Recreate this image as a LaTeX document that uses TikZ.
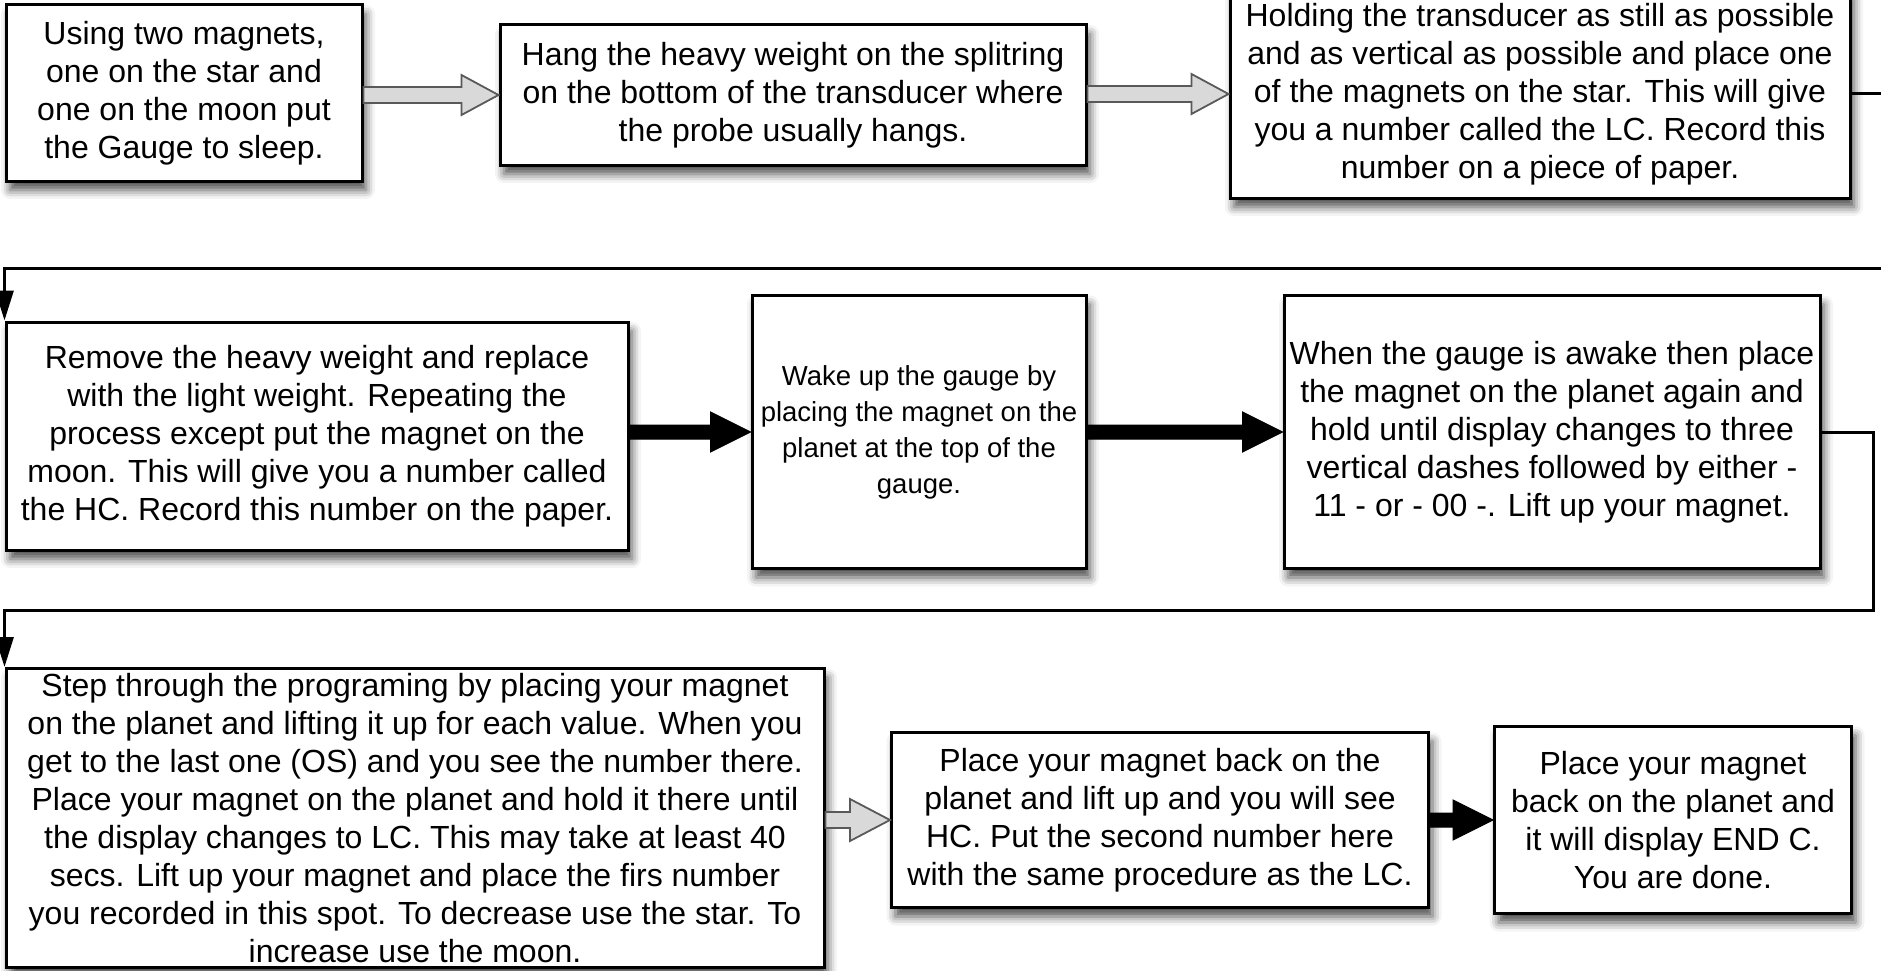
\documentclass[tikz,border=0pt]{standalone}
\usepackage{fontspec}
\setmainfont{Liberation Sans}
\usetikzlibrary{calc,arrows.meta,shadows.blur}

\begin{document}
\begin{tikzpicture}[x=1pt, y=-1pt, every node/.style={font=\fontsize{32}{38}\selectfont},
    stepbox/.style={draw, line width=3pt, fill=white, align=center, inner sep=0pt,
        blur shadow={shadow xshift=4pt, shadow yshift=-9pt, shadow blur radius=9pt, shadow opacity=70}},
    flowline/.style={line width=3pt, -{Triangle[length=30pt, width=18pt]}},
    hollowarrow/.style={draw=black!65, line width=1.8pt, fill=black!15, line join=miter},
    solidarrow/.style={draw=black, line width=1pt, fill=black, line join=miter}]

\useasboundingbox (0,0) rectangle (1881,971);

% Row 1
\node[stepbox, minimum width=356, minimum height=176] (sleep) at (184, 93) {
    Using two magnets,\\
    one on the star and\\
    one on the moon put\\
    the Gauge to sleep.
};

\node[stepbox, minimum width=586, minimum height=140] (heavy) at (793, 95) {
    Hang the heavy weight on the splitring\\
    on the bottom of the transducer where\\
    the probe usually hangs.
};

\node[stepbox, minimum width=620, minimum height=208] (lc) at (1540, 94) {
    Holding the transducer as still as possible\\
    and as vertical as possible and place one\\
    of the magnets on the star. This will give\\
    you a number called the LC. Record this\\
    number on a piece of paper.
};

% Row 2
\node[stepbox, minimum width=622, minimum height=228] (hc) at (317, 436) {
    Remove the heavy weight and replace\\
    with the light weight. Repeating the\\
    process except put the magnet on the\\
    moon. This will give you a number called\\
    the HC. Record this number on the paper.
};

\node[stepbox, minimum width=334, minimum height=273, font=\fontsize{27.5}{36}\selectfont] (wake) at (919, 432) {
    Wake up the gauge by\\
    placing the magnet on the\\
    planet at the top of the\\
    gauge.
};

\node[stepbox, minimum width=536, minimum height=273] (dashes) at (1552, 432) {
    When the gauge is awake then place\\
    the magnet on the planet again and\\
    hold until display changes to three\\
    vertical dashes followed by either -\\
    11 - or - 00 -. Lift up your magnet.
};

% Row 3
\node[stepbox, minimum width=818, minimum height=299] (program) at (415, 818) {
    Step through the programing by placing your magnet\\
    on the planet and lifting it up for each value. When you\\
    get to the last one (OS) and you see the number there.\\
    Place your magnet on the planet and hold it there until\\
    the display changes to LC. This may take at least 40\\
    secs. Lift up your magnet and place the firs number\\
    you recorded in this spot. To decrease use the star. To\\
    increase use the moon.
};

\node[stepbox, minimum width=537, minimum height=175] (second) at (1160, 820) {
    Place your magnet back on the\\
    planet and lift up and you will see\\
    HC. Put the second number here\\
    with the same procedure as the LC.
};

\node[stepbox, minimum width=357, minimum height=187] (done) at (1673, 820) {
    Place your magnet\\
    back on the planet and\\
    it will display END C.\\
    You are done.
};

% Turning points of the long connectors
\coordinate (turnA) at (1900, 268);
\coordinate (turnB) at (1873, 610);

% Connectors between rows
\draw[flowline] (lc.east) -- (lc.east -| turnA) -- (turnA) -- (turnA -| hc.north west) -- (hc.north west);
\draw[flowline] (dashes.east) -- (dashes.east -| turnB) -- (turnB) -- (turnB -| program.north west) -- (program.north west);

% Hollow block arrows
\draw[hollowarrow] ($(sleep.east |- heavy.west)+(0,-8)$) -- ($(heavy.west)+(-37,-8)$) -- ($(heavy.west)+(-37,-20)$) -- (heavy.west)
    -- ($(heavy.west)+(-37,20)$) -- ($(heavy.west)+(-37,8)$) -- ($(sleep.east |- heavy.west)+(0,8)$) -- cycle;
\draw[hollowarrow] ($(heavy.east |- lc.west)+(0,-8)$) -- ($(lc.west)+(-37,-8)$) -- ($(lc.west)+(-37,-20)$) -- (lc.west)
    -- ($(lc.west)+(-37,20)$) -- ($(lc.west)+(-37,8)$) -- ($(heavy.east |- lc.west)+(0,8)$) -- cycle;
\draw[hollowarrow] ($(program.east |- second.west)+(0,-8)$) -- ($(second.west)+(-40,-8)$) -- ($(second.west)+(-40,-21)$) -- (second.west)
    -- ($(second.west)+(-40,21)$) -- ($(second.west)+(-40,8)$) -- ($(program.east |- second.west)+(0,8)$) -- cycle;

% Solid block arrows
\draw[solidarrow] ($(hc.east |- wake.west)+(0,-7)$) -- ($(wake.west)+(-40,-7)$) -- ($(wake.west)+(-40,-20)$) -- (wake.west)
    -- ($(wake.west)+(-40,20)$) -- ($(wake.west)+(-40,7)$) -- ($(hc.east |- wake.west)+(0,7)$) -- cycle;
\draw[solidarrow] ($(wake.east |- dashes.west)+(0,-7)$) -- ($(dashes.west)+(-40,-7)$) -- ($(dashes.west)+(-40,-20)$) -- (dashes.west)
    -- ($(dashes.west)+(-40,20)$) -- ($(dashes.west)+(-40,7)$) -- ($(wake.east |- dashes.west)+(0,7)$) -- cycle;
\draw[solidarrow] ($(second.east |- done.west)+(0,-7)$) -- ($(done.west)+(-40,-7)$) -- ($(done.west)+(-40,-20)$) -- (done.west)
    -- ($(done.west)+(-40,20)$) -- ($(done.west)+(-40,7)$) -- ($(second.east |- done.west)+(0,7)$) -- cycle;

\end{tikzpicture}
\end{document}
